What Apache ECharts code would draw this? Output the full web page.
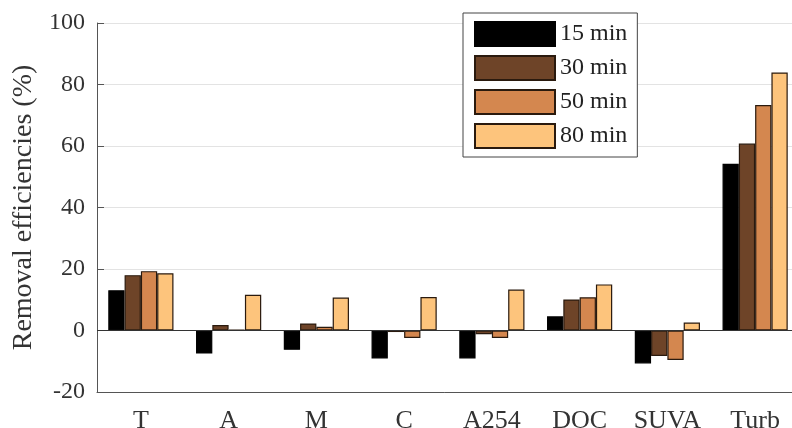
<!DOCTYPE html>
<html>
<head>
<meta charset="utf-8">
<script src="https://cdn.jsdelivr.net/npm/echarts@6/dist/echarts.min.js"></script>
<style>
  html, body { margin: 0; padding: 0; background: #fff; }
  #chart { width: 792px; height: 428px; }
</style>
</head>
<body>
<div id="chart"></div>
<script>
// categories and values
var categories = ['T', 'A', 'M', 'C', 'A254', 'DOC', 'SUVA', 'Turb'];
var seriesNames = ['15 min', '30 min', '50 min', '80 min'];
var v15 = [13.1, -7.5, -6.3, -9.1, -9.1, 4.6, -10.7, 54.2];
var v30 = [18.0, 1.8, 2.3, -0.5, -1.2, 10.1, -8.3, 60.8];
var v50 = [19.3, 0.2, 1.2, -2.4, -2.4, 10.8, -9.6, 73.3];
var v80 = [18.6, 11.6, 10.7, 10.9, 13.3, 15.0, 2.6, 83.9];
var yTicks = [-20, 0, 20, 40, 60, 80, 100];

var colors = ['#000000', '#6e4428', '#d4874f', '#fdc47c'];
var borders = ['#000000', '#2a1a0e', '#2a1a0e', '#2a1a0e'];
var font = '"Liberation Serif", "Times New Roman", serif';

var chart = echarts.init(document.getElementById('chart'));

var allData = [v15, v30, v50, v80];
var series = allData.map(function (d, i) {
    var s = {
        name: seriesNames[i],
        type: 'bar',
        data: d,
        barWidth: 16.3,
        barGap: '0%',
        itemStyle: {
            color: colors[i],
            borderColor: borders[i],
            borderWidth: 1.2
        }
    };
    if (i === 0) {
        //零线
        s.markLine = {
            silent: true,
            symbol: ['none', 'none'],
            label: {show: false},
            lineStyle: {color: '#333', width: 1, type: 'solid'},
            data: [{yAxis: 0}]
        };
    }
    return s;
});

chart.setOption({
    animation: false,
    textStyle: {fontFamily: font},
    grid: {left: 97, right: -7, top: 23, bottom: 36, outerBoundsMode: 'none'},
    legend: {
        orient: 'vertical',
        left: 463,
        top: 13,
        icon: 'rect',
        itemWidth: 80,
        itemHeight: 24,
        itemGap: 8,
        padding: [8, 10, 8, 11],
        borderColor: '#444',
        borderWidth: 1,
        backgroundColor: '#fff',
        textStyle: {fontFamily: font, fontSize: 24, color: '#222'},
        data: seriesNames
    },
    xAxis: {
        type: 'category',
        data: categories,
        position: 'bottom',
        axisLine: {onZero: false, lineStyle: {color: '#555', width: 1}},
        axisTick: {alignWithLabel: true, inside: true, length: 7, lineStyle: {color: '#555'}},
        axisLabel: {fontFamily: font, fontSize: 26, color: '#333', margin: 16, interval: 0},
        splitLine: {show: false}
    },
    yAxis: {
        type: 'value',
        min: yTicks[0],
        max: yTicks[yTicks.length - 1],
        interval: 20,
        name: 'Removal efficiencies (%)',
        nameLocation: 'middle',
        nameGap: 56,
        nameTextStyle: {fontFamily: font, fontSize: 28, color: '#333'},
        axisLine: {show: true, lineStyle: {color: '#555', width: 1}},
        axisTick: {show: true, inside: true, length: 7, lineStyle: {color: '#555'}},
        axisLabel: {fontFamily: font, fontSize: 24, color: '#333', margin: 12},
        splitLine: {show: true, lineStyle: {color: '#e3e3e3', width: 1}}
    },
    series: series
});
</script>
</body>
</html>
